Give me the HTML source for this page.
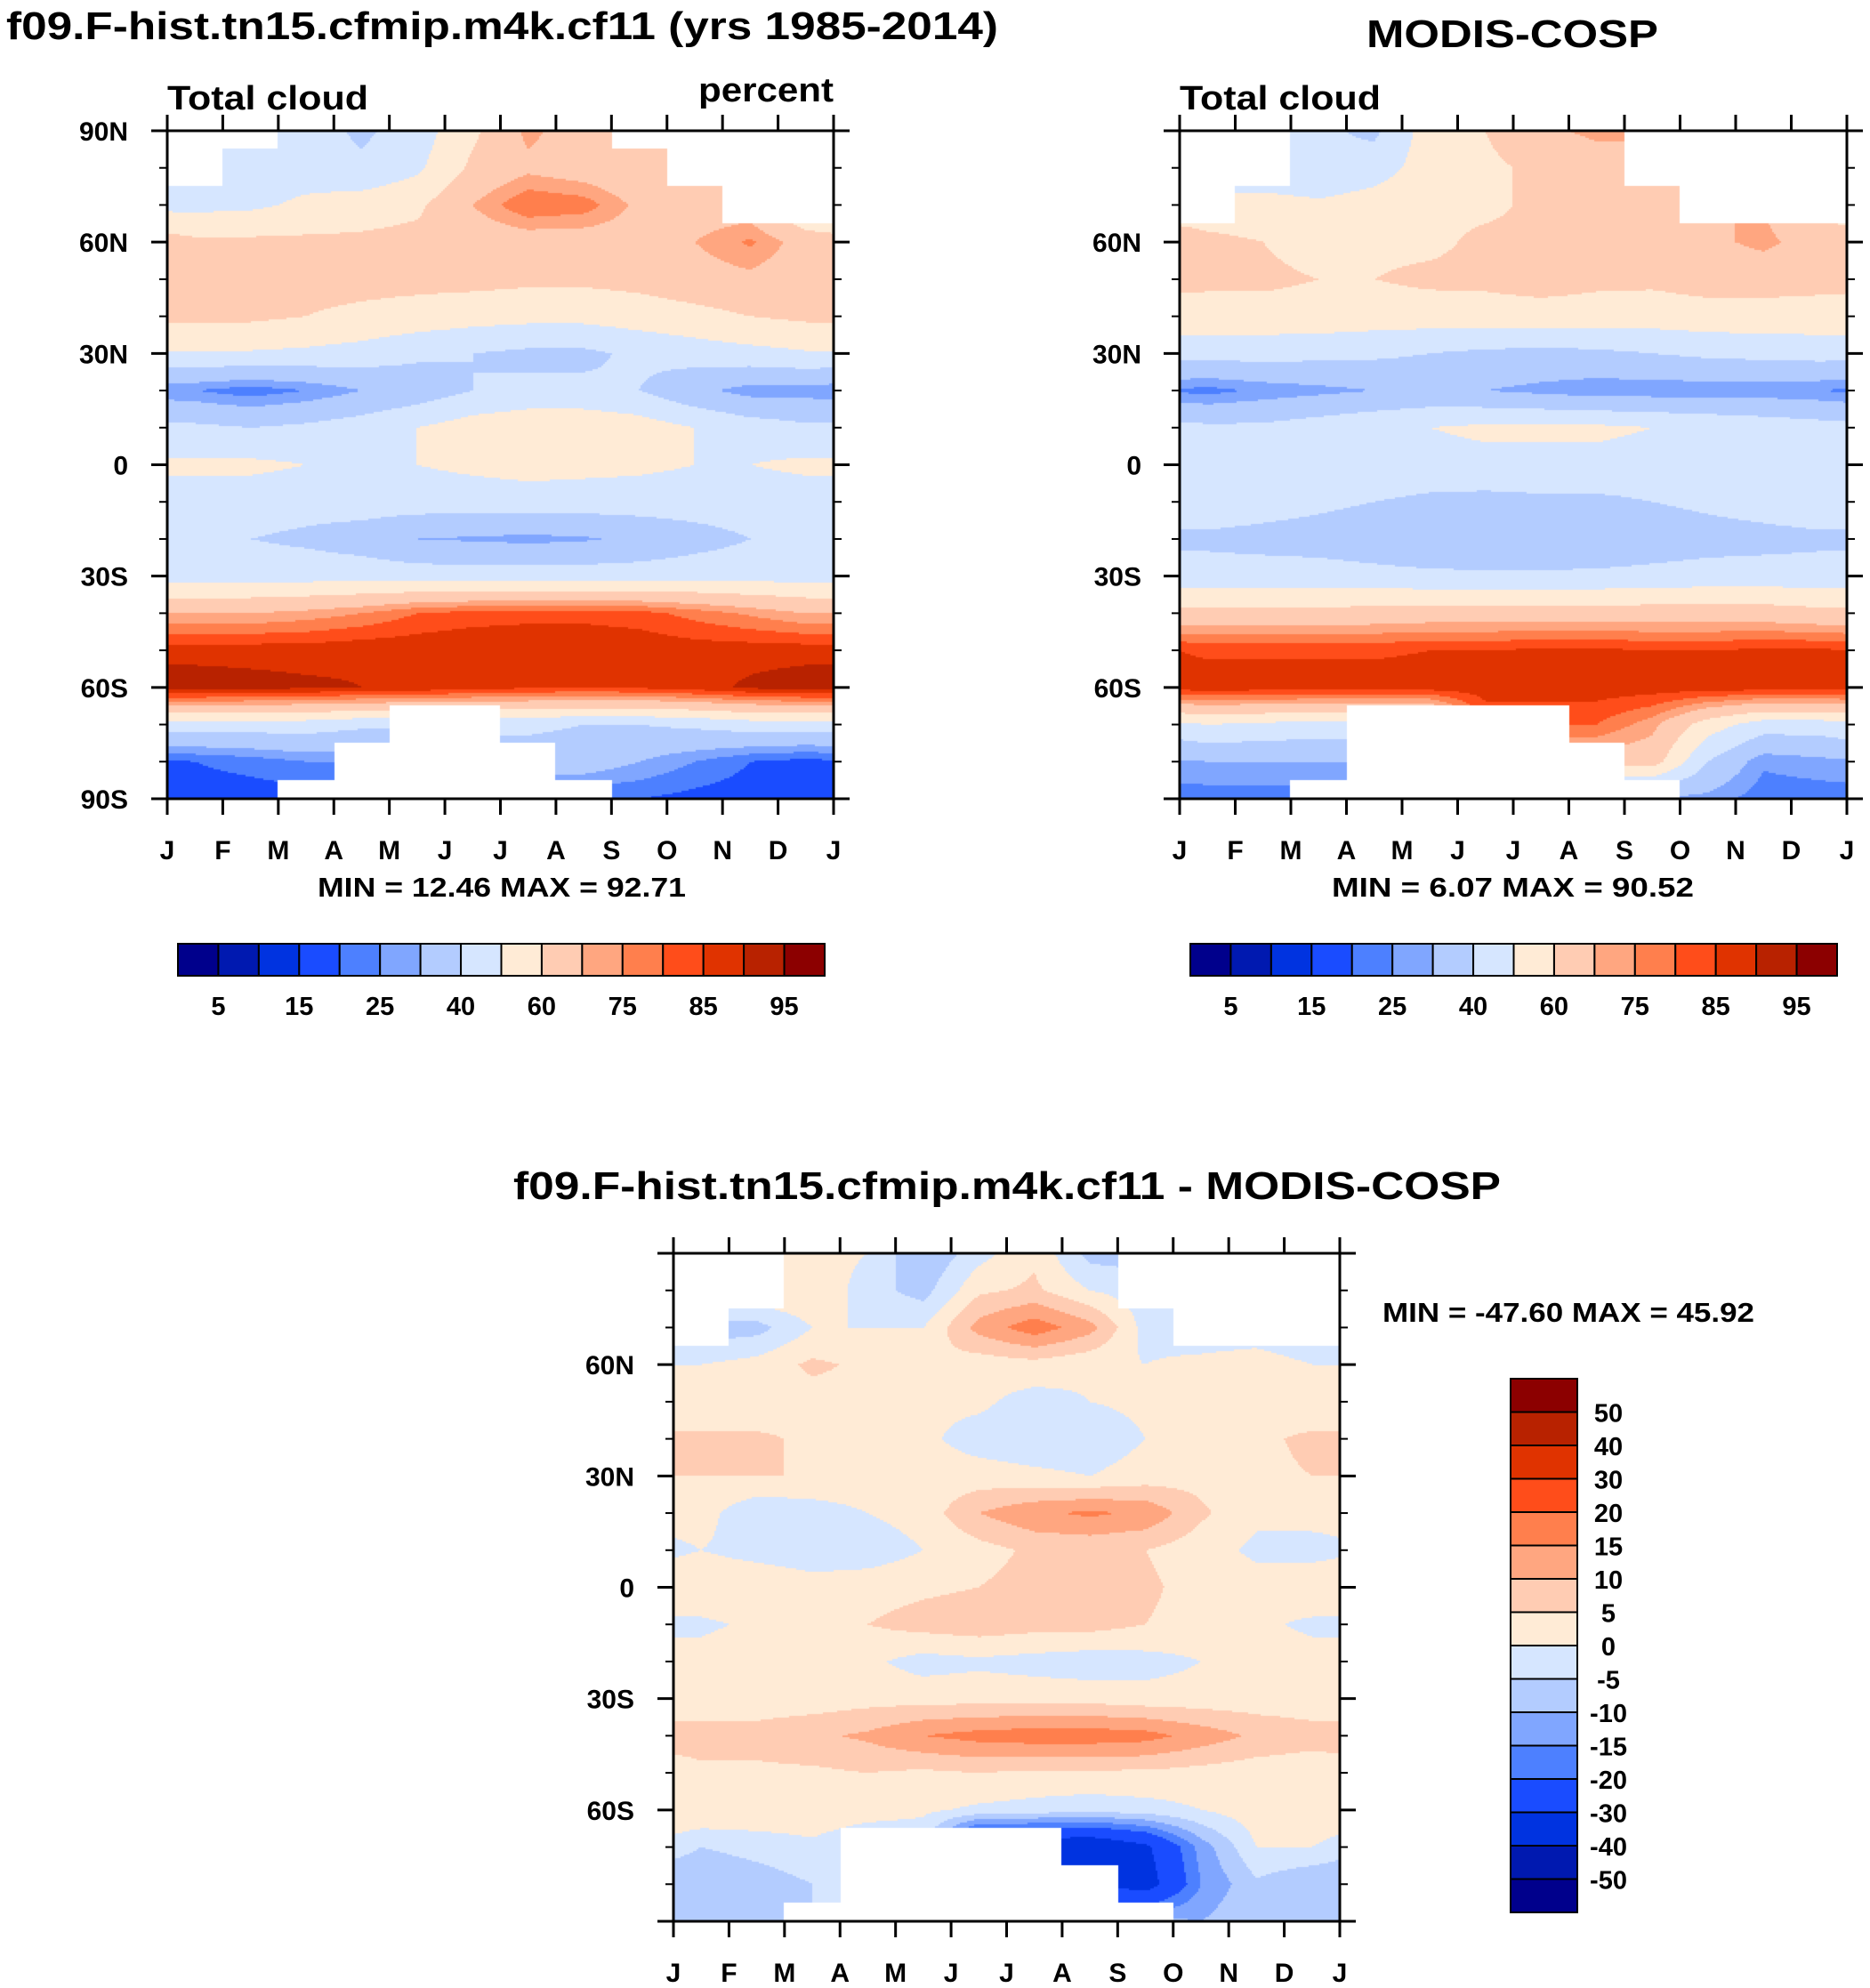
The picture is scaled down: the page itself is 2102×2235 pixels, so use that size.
<!DOCTYPE html>
<html><head><meta charset="utf-8">
<style>
html,body{margin:0;padding:0;background:#fff;}
#wrap{position:relative;width:2102px;height:2235px;overflow:hidden;background:#fff;}
canvas{position:absolute;}
svg{position:absolute;left:0;top:0;}
text{font-family:"Liberation Sans",sans-serif;font-weight:bold;fill:#000;}
</style></head>
<body>
<div id="wrap">
<canvas id="c1"></canvas>
<canvas id="c2"></canvas>
<canvas id="c3"></canvas>
<svg id="ov" width="2102" height="2235"></svg>
</div>
<script>
// ---- data ----
const monthLabels=['J','F','M','A','M','J','J','A','S','O','N','D','J'];
const latitudes=[90,80,70,60,50,40,30,20,10,0,-10,-20,-30,-40,-50,-60,-70,-80,-90];
const latTickLabels=['90N','60N','30N','0','30S','60S','90S'];
const absLevels=[5,10,15,20,25,30,40,50,60,70,75,80,85,90,95];
const absLevelLabels=['5','15','25','40','60','75','85','95'];
const diffLevels=[-50,-40,-30,-20,-15,-10,-5,0,5,10,15,20,30,40,50];
const paletteColors=['#00008C','#0019B0','#0033E0','#1A4CFF','#4D80FF','#80A6FF','#B3CCFF','#D6E6FF','#FFEBD6','#FFCCB3','#FFA680','#FF7F4D','#FF4D1A','#E03300','#B82200','#8C0000'];
const N=null;
const modelCloud=[
[N,N,45,38,45,58,72,65,N,N,N,N],
[N,45,45,42,48,62,68,65,62,N,N,N],
[47,48,52,55,58,70,80,78,68,65,N,N],
[62,62,62,62,63,64,65,65,66,70,76,66],
[63,63,63,63,63,63,62,62,63,66,68,64],
[62,62,60,58,56,54,53,53,55,57,60,62],
[49,49,48,46,42,40,38,38,42,45,47,49],
[25,22,25,30,34,40,42,42,40,32,27,27],
[42,40,42,45,50,55,58,58,55,50,45,42],
[52,52,50,50,50,52,54,53,52,50,50,52],
[45,45,44,45,45,45,45,45,45,45,45,45],
[40,40,38,35,30,29,28,29,32,36,40,40],
[46,46,46,46,45,45,45,45,45,46,46,46],
[70,70,72,75,80,82,83,83,82,78,74,70],
[88,88,88,89,89,90,90,90,89,88,88,88],
[93,92,91,90,89,87,86,85,86,88,91,93],
[45,45,45,42,N,N,42,40,40,42,45,45],
[20,22,25,N,N,N,N,35,30,25,20,18],
[17,17,N,N,N,N,N,N,20,18,17,17]];
const obsCloud=[
[N,N,42,38,55,60,68,72,N,N,N,N],
[N,N,40,45,55,58,62,65,N,N,N,N],
[N,55,52,55,58,58,62,66,70,N,N,N],
[62,60,56,58,58,62,62,64,66,68,72,66],
[62,62,60,60,62,62,64,62,62,64,64,63],
[56,56,56,55,55,56,56,56,55,56,56,56],
[44,44,43,42,40,38,37,38,40,42,43,44],
[23,26,28,30,32,30,28,26,26,26,26,25],
[42,42,45,48,50,52,52,52,50,48,46,44],
[48,48,48,47,46,47,47,47,46,47,48,48],
[46,44,42,40,38,37,38,38,40,42,44,46],
[38,37,36,34,32,30,30,32,34,36,37,38],
[44,44,44,43,42,42,42,42,43,44,44,44],
[63,63,63,64,65,65,65,65,65,65,65,63],
[84,84,84,84,85,85,86,86,85,85,86,86],
[88,88,88,88,88,88,88,88,88,88,88,88],
[50,48,46,N,N,N,N,80,72,55,45,45],
[30,30,30,N,N,N,N,N,65,40,26,28],
[22,22,N,N,N,N,N,N,N,28,22,22]];

// ---- helpers ----
function fillGrid(g){
  const out=g.map(r=>r.slice());
  for(let j=0;j<g.length;j++){for(let m=0;m<12;m++){if(g[j][m]===null){
    let best=null;
    for(let d=1;d<=6&&best===null;d++){
      const a=g[j][(m+d)%12],b=g[j][(m-d+12)%12];
      if(a!==null&&b!==null)best=(a+b)/2;else if(a!==null)best=a;else if(b!==null)best=b;}
    if(best===null){for(let d=1;d<g.length&&best===null;d++){
      if(j-d>=0&&g[j-d][m]!==null)best=g[j-d][m];}}
    out[j][m]=best===null?50:best;}}}
  return out;
}
function sample(g,fx,fy){
  const u=fx*12-0.5;let i0=Math.floor(u);const t=u-i0;
  const a=((i0%12)+12)%12,b=(a+1)%12;
  const nl=g.length-1;const v=fy*nl;let j0=Math.min(nl-1,Math.max(0,Math.floor(v)));const s=v-j0;
  const top=g[j0][a]*(1-t)+g[j0][b]*t, bot=g[j0+1][a]*(1-t)+g[j0+1][b]*t;
  return top*(1-s)+bot*s;
}
function colorFor(v,levels){let k=0;while(k<levels.length&&v>=levels[k])k++;return paletteColors[k];}
function drawField(id,x0,y0,x1,y1,gridFn,maskFn,levels){
  const c=document.getElementById(id);const W=x1-x0,H=y1-y0;
  c.width=W;c.height=H;c.style.left=x0+'px';c.style.top=y0+'px';
  const ctx=c.getContext('2d');const st=2;
  for(let y=0;y<H;y+=st){const fy=(y+st/2)/H;const lr=Math.round(fy*(latitudes.length-1));
    for(let x=0;x<W;x+=st){const fx=(x+st/2)/W;const mc=Math.min(11,Math.floor(fx*12));
      if(!maskFn(lr,mc))continue;
      ctx.fillStyle=colorFor(gridFn(fx,fy),levels);ctx.fillRect(x,y,st,st);}}
}
const NS='http://www.w3.org/2000/svg';const ov=document.getElementById('ov');
function mk(tag,attrs,txt){const e=document.createElementNS(NS,tag);for(const k in attrs)e.setAttribute(k,attrs[k]);if(txt!==undefined)e.textContent=txt;ov.appendChild(e);return e;}

const F1=fillGrid(modelCloud),F2=fillGrid(obsCloud);
const diffFn=(fx,fy)=>sample(F1,fx,fy)-sample(F2,fx,fy);
drawField('c1',188,147,937,898,(fx,fy)=>sample(F1,fx,fy),(l,m)=>modelCloud[l][m]!==null,absLevels);
drawField('c2',1326,147,2076,898,(fx,fy)=>sample(F2,fx,fy),(l,m)=>obsCloud[l][m]!==null,absLevels);
drawField('c3',757,1409,1506,2160,diffFn,(l,m)=>modelCloud[l][m]!==null&&obsCloud[l][m]!==null,diffLevels);

function axes(x0,y0,x1,y1,labelEnds,name,labelRight){
  const W=x1-x0,H=y1-y0;
  const fr=mk('rect',{x:x0,y:y0,width:W,height:H,fill:'none',stroke:'#000','stroke-width':3});
  
  
  for(let i=0;i<monthLabels.length;i++){const x=x0+W*i/12;
    const tb=mk('line',{x1:x,y1:y1,x2:x,y2:y1+18,stroke:'#000','stroke-width':3});
    
    
    const tt=mk('line',{x1:x,y1:y0,x2:x,y2:y0-18,stroke:'#000','stroke-width':3});
    
    
    const lb=mk('text',{x:x,y:y1+68,'font-size':30,'text-anchor':'middle'},monthLabels[i]);
    
    }
  for(let k=0;k<=18;k++){const y=y0+H*k/18;const major=k%3===0;const len=major?18:9;
    const tl=mk('line',{x1:x0,y1:y,x2:x0-len,y2:y,stroke:'#000','stroke-width':major?3:2});
    
    
    const tr=mk('line',{x1:x1,y1:y,x2:x1+len,y2:y,stroke:'#000','stroke-width':major?3:2});
    
    
    if(major){const idx=k/3;if(!labelEnds&&(idx===0||idx===6))continue;
      const yl=mk('text',{x:labelRight,y:y+11,'font-size':30,'text-anchor':'end'},latTickLabels[idx]);
      
      }}
}
axes(188,147,937,898,true,'model-plot',144);
axes(1326,147,2076,898,false,'obs-plot',1283);
axes(757,1409,1506,2160,false,'diff-plot',713);

function hbar(x0,x1,y0,y1,name){
  const w=(x1-x0)/16;
  for(let i=0;i<16;i++){const r=mk('rect',{x:x0+i*w,y:y0,width:w,height:y1-y0,fill:paletteColors[i],stroke:'#000','stroke-width':2});
    
    }
  for(let i=0;i<absLevelLabels.length;i++){const t=mk('text',{x:x0+(2*i+1)*w,y:y1+44,'font-size':29,'text-anchor':'middle'},absLevelLabels[i]);
    
    }
}
hbar(200,927,1061,1097,'model-colorbar');
hbar(1338,2065,1061,1097,'obs-colorbar');
(function(){const x0=1698,x1=1773,y0=1550,y1=2150,h=(y1-y0)/16;
  for(let i=0;i<16;i++){const r=mk('rect',{x:x0,y:y0+i*h,width:x1-x0,height:h,fill:paletteColors[15-i],stroke:'#000','stroke-width':2});
    
    }
  for(let i=0;i<15;i++){const t=mk('text',{x:1808,y:y0+(i+1)*h+11,'font-size':29,'text-anchor':'middle'},String(diffLevels[14-i]));
    
    }
})();

function label(txt,x,y,size,anchor,len,name){const t=mk('text',{x:x,y:y,'font-size':size,'text-anchor':anchor,textLength:len,lengthAdjust:'spacingAndGlyphs'},txt);
  
  }
label('f09.F-hist.tn15.cfmip.m4k.cf11 (yrs 1985-2014)',7,44,44,'start',1115,'model-title');
label('MODIS-COSP',1536,53,44,'start',328,'obs-title');
label('f09.F-hist.tn15.cfmip.m4k.cf11 - MODIS-COSP',577,1348,44,'start',1110,'diff-title');
label('Total cloud',188,123,38,'start',226,'model-variable-label');
label('percent',937,114,38,'end',152,'units-label');
label('Total cloud',1326,123,38,'start',226,'obs-variable-label');
label('MIN =  12.46 MAX =  92.71',357,1008,31,'start',414,'model-min-max');
label('MIN =    6.07 MAX =  90.52',1497,1008,31,'start',407,'obs-min-max');
label('MIN = -47.60 MAX =  45.92',1554,1486,31,'start',418,'diff-min-max');
</script>
</body></html>
